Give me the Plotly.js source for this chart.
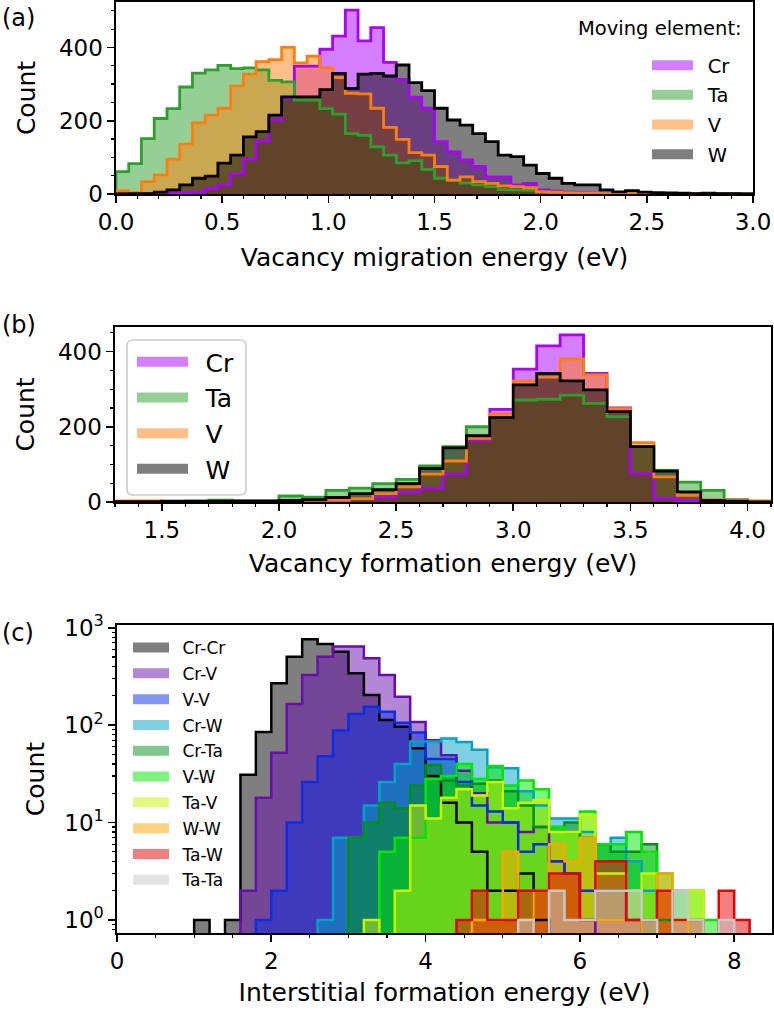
<!DOCTYPE html>
<html><head><meta charset="utf-8">
<script src="https://cdn.plot.ly/plotly-3.0.1.min.js"></script>
<style>html,body{margin:0;padding:0;background:#fff}#chart{width:774px;height:1016px}</style>
</head><body><div id="chart"></div>
<script>
// ---------- Panel (a): vacancy migration energy, bins of 0.06 eV from 0 ----------
const aBinStart = 0.0, aBinWidth = 0.06;
const aCr = [0,0,0,1,3,4,6,15,25,55, 95,145,202,261,349,349,395,431,502,418, 454,359,313,264,234,143,115,93,75,47, 47,25,29,11,8,5,4,3,2,2, 1,1,0,0,0,0,0,0,0,0];
const aTa = [61,83,151,206,233,292,330,339,351,342, 344,339,310,306,256,256,233,218,165,160, 129,106,85,91,67,43,38,30,25,20, 12,11,10,6,4,3,2,1,1,0, 0,0,0,0,0,0,0,0,0,0];
const aV  = [9,4,34,52,95,136,195,215,234,295, 327,361,367,400,358,376,345,318,275,273, 234,182,149,113,106,75,38,47,34,29, 22,20,17,6,5,3,2,2,1,1, 1,0,0,0,0,0,0,0,0,0];
const aW  = [0,1,1,5,11,25,43,49,84,106, 156,170,215,265,265,265,285,329,288,327, 329,322,352,304,282,234,202,188,165,143, 106,102,79,56,43,29,25,25,11,6, 9,5,4,3,2,1,2,1,1,0];

// ---------- Panel (b): vacancy formation energy, bins of 0.1 eV from 1.3 ----------
const bBinStart = 1.3, bBinWidth = 0.1;
const bCr = [0,0,0,0,0,0,0,1,1,4,9,13,27,36,74,164,246,353,415,444,342,250,76,9,4,2,0,0];
const bTa = [1,1,1,2,5,2,2,16,13,31,37,49,60,96,147,200,225,271,273,284,262,227,148,84,53,31,6,1];
const bV  = [3,3,1,0,1,1,1,1,3,5,9,22,40,74,109,169,234,322,332,380,338,248,158,67,18,6,4,3];
const bW  = [1,1,2,2,2,3,3,4,6,12,22,33,49,89,144,176,224,311,342,322,298,240,147,82,27,4,2,0];

// ---------- Panel (c): interstitial formation energy, bins of 0.2 eV from 1.0 ----------
const cBinStart = 1.0, cBinWidth = 0.2;
const cCrCr = [1,0,1,31,85,269,505,762,681,568, 341,204,113,96,58,30,16,10,5,2, 2,3,1,0,0,0,0,0,0,0, 0,0,0,0,0,0];
const cCrV  = [0,0,0,2,18,52,165,327,505,640, 640,486,327,196,108,70,49,34,20,10, 10,8,9,4,3,1,0,0,0,0, 0,0,0,0,0,0];
const cVV   = [0,0,0,0,1,2,10,26,48,88, 130,154,137,106,84,45,45,26,15,13, 10,5,6,4,3,2,2,2,1,0, 0,0,0,0,0,0];
const cCrW  = [0,0,0,0,0,0,0,0,1,7, 7,15,26,40,68,68,73,67,56,37, 36,21,15,11,11,8,6,7,4,2, 0,0,0,0,0,0];
const cCrTa = [0,0,0,0,0,0,0,0,0,0, 7,10,16,14,24,39,27,24,25,27, 21,15,9,9,10,7,6,5,5,6, 1,0,0,0,0,0];
const cVW   = [0,0,0,0,0,0,0,0,0,0, 0,0,5,7,7,28,30,40,28,38, 24,27,22,9,8,13,6,6,8,5, 3,2,2,1,0,0];
const cTaV  = [0,0,0,0,0,0,0,0,0,0, 0,1,0,2,15,11,18,22,19,26, 14,16,17,8,8,12,3,3,2,3, 2,1,2,0,0,0];
const cWW   = [0,0,0,0,0,0,0,0,0,0, 0,0,0,0,0,0,0,0,1,1, 5,1,2,6,4,7,1,1,1,0, 3,1,0,0,0,0];
const cTaW  = [0,0,0,0,0,0,0,0,0,0, 0,0,0,0,0,0,0,1,2,1, 1,2,2,3,3,1,4,4,1,1, 2,1,1,0,2,1];
const cTaTa = [0,0,0,0,0,0,0,0,0,0, 0,0,0,0,0,0,0,0,0,0, 0,1,0,2,1,1,2,2,2,1, 0,2,1,0,1,0];

const abNames = ['Cr','Ta','V','W'];
const cNames = ['Cr-Cr','Cr-V','V-V','Cr-W','Cr-Ta','V-W','Ta-V','W-W','Ta-W','Ta-Ta'];
const cTickVals = [1,10,100,1000];
const cTickText = ['10<sup>0</sup>','10<sup>1</sup>','10<sup>2</sup>','10<sup>3</sup>'];
const cMinorVals = [0.8,0.9,2,3,4,5,6,7,8,9,20,30,40,50,60,70,80,90,200,300,400,500,600,700,800,900];

// ---------- styles ----------
const abColors = ['#aa00ff','#2ca02c','#ff7f0e','#000000'];
const cColors = ['#000000','#6a0dad','#0a2ee0','#00a3c4','#00901a','#00e600','#c9f400','#ffa500','#e60000','#c8c8c8'];
const FONT = 'DejaVu Sans, Liberation Sans, sans-serif';
const W = 774, H = 1016;
const px = p => p / W, py = p => 1 - p / H;
const GAP = '\u2002';

function rgba(hex, a) {
  const n = parseInt(hex.slice(1), 16);
  return `rgba(${(n>>16)&255},${(n>>8)&255},${n&255},${a})`;
}
function stepXY(start, width, counts, base) {
  const x = [start], y = [base];
  counts.forEach((c, i) => { x.push(start + i * width); y.push(c > 0 ? c : base); });
  x.push(start + counts.length * width); y.push(base);
  return {x, y};
}

const fills = [], lines = [], legendItems = [];
function panel(seriesList, names, colors, start, width, xa, ya, base, lw, legendId, symH) {
  seriesList.forEach((counts, k) => {
    const s = stepXY(start, width, counts, base);
    fills.push({type:'scatter', mode:'lines', x:s.x, y:s.y, xaxis:xa, yaxis:ya,
      line:{shape:'hv', width:0, color:rgba(colors[k],0.5)}, fill:'toself',
      fillcolor:rgba(colors[k],0.5), hoverinfo:'skip', showlegend:false});
    lines.push({type:'scatter', mode:'lines', x:s.x, y:s.y, xaxis:xa, yaxis:ya,
      line:{shape:'hv', width:lw, color:colors[k]}, hoverinfo:'skip', showlegend:false});
    legendItems.push({type:'scatter', mode:'lines', x:[null], y:[null], xaxis:xa, yaxis:ya,
      name:GAP + names[k], legend:legendId, legendgroup:legendId + names[k],
      line:{width:symH, color:rgba(colors[k],0.5)}, showlegend:true, hoverinfo:'skip'});
  });
}
panel([aCr,aTa,aV,aW], abNames, abColors, aBinStart, aBinWidth, 'x', 'y', 0, 2.8, 'legend', 14);
panel([bCr,bTa,bV,bW], abNames, abColors, bBinStart, bBinWidth, 'x2', 'y2', 0, 2.8, 'legend2', 18);
panel([cCrCr,cCrV,cVV,cCrW,cCrTa,cVW,cTaV,cWW,cTaW,cTaTa], cNames, cColors, cBinStart, cBinWidth, 'x3', 'y3', 0.01, 2.5, 'legend3', 13);

const tickStyle = {ticks:'outside', ticklen:7, tickwidth:1.6, tickcolor:'#000',
  showline:true, linecolor:'#000', linewidth:1.6, mirror:true, showgrid:false, zeroline:false,
  tickfont:{family:FONT, size:23, color:'#000'}};
const minorStyle = {ticks:'outside', ticklen:3.5, tickwidth:1.2, tickcolor:'#000', showgrid:false};
const titleFont = {family:FONT, size:25, color:'#000'};

// rounded legend frame for panel (b), in pixels converted to paper units
function roundRect(x0, y0, x1, y1, r) {
  const X = v => px(v).toFixed(5), Y = v => py(v).toFixed(5);
  return `M${X(x0+r)},${Y(y0)} L${X(x1-r)},${Y(y0)} Q${X(x1)},${Y(y0)} ${X(x1)},${Y(y0+r)} ` +
    `L${X(x1)},${Y(y1-r)} Q${X(x1)},${Y(y1)} ${X(x1-r)},${Y(y1)} L${X(x0+r)},${Y(y1)} ` +
    `Q${X(x0)},${Y(y1)} ${X(x0)},${Y(y1-r)} L${X(x0)},${Y(y0+r)} Q${X(x0)},${Y(y0)} ${X(x0+r)},${Y(y0)} Z`;
}

const layout = {
  width:W, height:H, margin:{l:0,r:0,t:0,b:0}, paper_bgcolor:'#fff', plot_bgcolor:'#fff',
  font:{family:FONT, color:'#000'}, showlegend:true,
  xaxis: Object.assign({}, tickStyle, {domain:[px(116),px(753)], anchor:'y', range:[0,3], tick0:0, dtick:0.5, tickformat:'.1f',
    minor:Object.assign({dtick:0.1}, minorStyle), title:{text:'Vacancy migration energy (eV)', font:titleFont, standoff:14}}),
  yaxis: Object.assign({}, tickStyle, {domain:[py(194),py(2)], anchor:'x', range:[0,524], tick0:0, dtick:200,
    minor:Object.assign({dtick:50}, minorStyle), title:{text:'Count', font:titleFont, standoff:16}}),
  xaxis2: Object.assign({}, tickStyle, {domain:[px(115),px(771)], anchor:'y2', range:[1.3,4.1], tick0:0, dtick:0.5, tickformat:'.1f',
    minor:Object.assign({dtick:0.1, tick0:0}, minorStyle), title:{text:'Vacancy formation energy (eV)', font:titleFont, standoff:12}}),
  yaxis2: Object.assign({}, tickStyle, {domain:[py(502),py(327)], anchor:'x2', range:[0,465], tick0:0, dtick:200,
    minor:Object.assign({dtick:50}, minorStyle), title:{text:'Count', font:titleFont, standoff:16}}),
  xaxis3: Object.assign({}, tickStyle, {domain:[px(117),px(772)], anchor:'y3', range:[0,8.49], tick0:0, dtick:2,
    minor:Object.assign({dtick:0.5, tick0:0}, minorStyle), title:{text:'Interstitial formation energy (eV)', font:titleFont, standoff:10}}),
  yaxis3: Object.assign({}, tickStyle, {domain:[py(933),py(625)], anchor:'x3', type:'log', range:[-0.134,3.028],
    tickmode:'array', tickvals:cTickVals, ticktext:cTickText,
    minor:Object.assign({tickmode:'array', tickvals:cMinorVals}, minorStyle),
    title:{text:'Count', font:titleFont, standoff:12}}),
  legend: {x:px(647), xanchor:'left', y:py(46), yanchor:'top', bgcolor:'rgba(0,0,0,0)', borderwidth:0,
    font:{family:FONT, size:19.5, color:'#000'}, tracegroupgap:1.3, itemwidth:41},
  legend2: {x:px(132), xanchor:'left', y:py(339), yanchor:'top', bgcolor:'rgba(0,0,0,0)', borderwidth:0,
    font:{family:FONT, size:25, color:'#000'}, tracegroupgap:0.2, itemwidth:51},
  legend3: {x:px(128), xanchor:'left', y:py(630), yanchor:'top', bgcolor:'rgba(0,0,0,0)', borderwidth:0,
    font:{family:FONT, size:17, color:'#000'}, tracegroupgap:0.7, itemwidth:36},
  shapes: [
    {type:'path', xref:'paper', yref:'paper', layer:'above', path:roundRect(127,340,246,495,6),
     line:{color:'#cccccc', width:1.6}, fillcolor:'rgba(255,255,255,0.8)'}
  ],
  annotations: [
    {text:'(a)', xref:'paper', yref:'paper', x:0, xanchor:'left', y:py(18), yanchor:'middle', showarrow:false, font:{family:FONT, size:24}},
    {text:'(b)', xref:'paper', yref:'paper', x:0, xanchor:'left', y:py(325), yanchor:'middle', showarrow:false, font:{family:FONT, size:24}},
    {text:'(c)', xref:'paper', yref:'paper', x:0, xanchor:'left', y:py(633), yanchor:'middle', showarrow:false, font:{family:FONT, size:24}},
    {text:'Moving element:', xref:'paper', yref:'paper', x:px(744), xanchor:'right', y:py(29), yanchor:'middle', showarrow:false, font:{family:FONT, size:19.5}}
  ]
};

Plotly.newPlot('chart', fills.concat(lines, legendItems), layout, {staticPlot:true, displayModeBar:false});
</script>
</body></html>
